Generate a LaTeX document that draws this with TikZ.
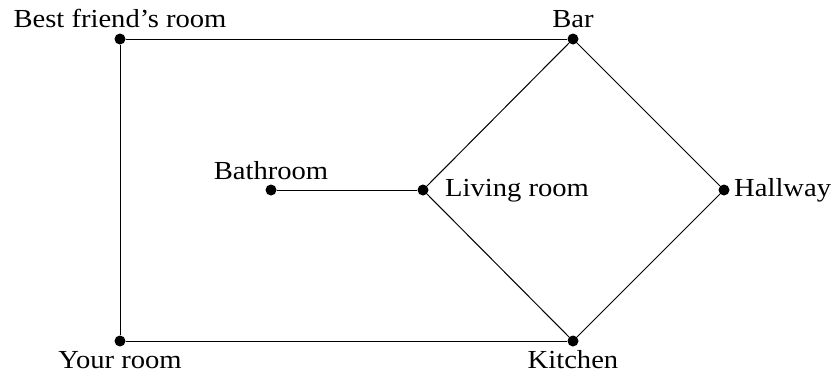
\documentclass[tikz,border=0pt]{standalone}
\usepackage{fontspec}
\setmainfont[FakeStretch=1.1]{Liberation Serif}
\begin{document}
\begin{tikzpicture}[x=1pt,y=-1pt,
  dot/.style={circle,fill=black,inner sep=0pt,minimum size=11pt},
  lbl/.style={font=\fontsize{26}{30}\selectfont,inner sep=0pt},
  edge/.style={draw=black,line width=1pt}]
\useasboundingbox (0,0) rectangle (836,378);
\node[dot] (bf) at (120,39) {};
\node[dot] (bar) at (573,39) {};
\node[dot] (bath) at (271,190) {};
\node[dot] (liv) at (423,190) {};
\node[dot] (hall) at (724,190) {};
\node[dot] (your) at (120,341) {};
\node[dot] (kit) at (573,341) {};
\node[lbl,anchor=base] (tbf) at (120,27) {Best friend’s room};
\node[lbl,anchor=base] (tbar) at (573,27) {Bar};
\node[lbl,anchor=base] (tbath) at (271,179) {Bathroom};
\node[lbl,anchor=base west] (tliv) at (445,196) {Living room};
\node[lbl,anchor=base west] (thall) at (734,196) {Hallway};
\node[lbl,anchor=base] (tyour) at (120,368) {Your room};
\node[lbl,anchor=base] (tkit) at (573,368) {Kitchen};
\draw[edge] (bf) -- (bar);
\draw[edge] (bf) -- (your);
\draw[edge] (your) -- (kit);
\draw[edge] (bath) -- (liv);
\draw[edge] (liv) -- (bar);
\draw[edge] (liv) -- (kit);
\draw[edge] (bar) -- (hall);
\draw[edge] (hall) -- (kit);
\end{tikzpicture}
\end{document}
